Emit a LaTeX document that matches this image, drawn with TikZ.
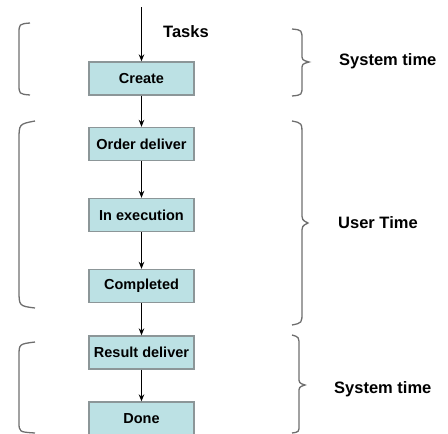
\documentclass[tikz,border=0pt]{standalone}
\usepackage{fontspec}
\setmainfont{Liberation Sans}
\usetikzlibrary{arrows.meta}
\definecolor{boxfill}{HTML}{BCE1E4}
\definecolor{boxline}{HTML}{8C9698}
\definecolor{bracegray}{HTML}{6E6E6E}
\tikzset{
  stage/.style={draw=boxline,fill=boxfill,line width=1.3pt,minimum width=105pt,minimum height=33pt,inner sep=0pt,font=\fontsize{14.5}{16}\selectfont\bfseries},
  flow/.style={-{Stealth[length=7pt,width=5.5pt]},line width=1.8pt},
  brace/.style={bracegray,line width=1.3pt},
  timelabel/.style={anchor=west,inner sep=0pt,font=\fontsize{16.5}{18}\selectfont\bfseries}
}
\begin{document}
\begin{tikzpicture}[x=1pt,y=-1pt]
                \useasboundingbox (0,0) rectangle (448,434);
                \coordinate (start) at (141.5,7);
                \node[stage] (create) at (141.5,78.5) {Create};
                \node[stage] (order) at (141.5,144) {Order deliver};
                \node[stage] (exec) at (141.5,215) {In execution};
                \node[stage] (done1) at (141.5,286) {Completed};
                \node[stage] (result) at (141.5,352.5) {Result deliver};
                \node[stage] (done) at (141.5,418.5) {Done};
                \node[timelabel] (tasks) at (163,32) {Tasks};
                \draw[flow] (start)--(create);
                \draw[flow] (create)--(order);
                \draw[flow] (order)--(exec);
                \draw[flow] (exec)--(done1);
                \draw[flow] (done1)--(result);
                \draw[flow] (result)--(done);
                % left brackets
                \draw[brace] (30,23) .. controls (19,24) .. (19,34) -- (19,84) .. controls (19,94) .. (30,95);
                \draw[brace] (35,121) .. controls (19,124) .. (19,140) -- (19,290) .. controls (19,306) .. (35,308);
                \draw[brace] (35,342) .. controls (19,344) .. (19,356) -- (19,422) .. controls (19,432) .. (35,433);
                % right braces
                \draw[brace] (292,29) .. controls (302,30) .. (302,40) -- (302,54) .. controls (302,60) .. (309,62)
                      .. controls (302,64) .. (302,70) -- (302,86) .. controls (302,95) .. (292,96);
                \draw[brace] (292,121) .. controls (302,123) .. (302,135) -- (302,212) .. controls (302,220) .. (308,223)
                      .. controls (302,226) .. (302,234) -- (302,312) .. controls (302,323) .. (292,325);
                \draw[brace] (292,335) .. controls (299,337) .. (299,346) -- (299,377) .. controls (299,383) .. (305,385)
                      .. controls (299,387) .. (299,393) -- (299,425) .. controls (299,432) .. (292,433);
                \node[timelabel] (sys1) at (339,61) {System time};
                \node[timelabel] (user) at (338,223) {User Time};
                \node[timelabel] (sys2) at (334,389) {System time};
            \end{tikzpicture}
\end{document}
